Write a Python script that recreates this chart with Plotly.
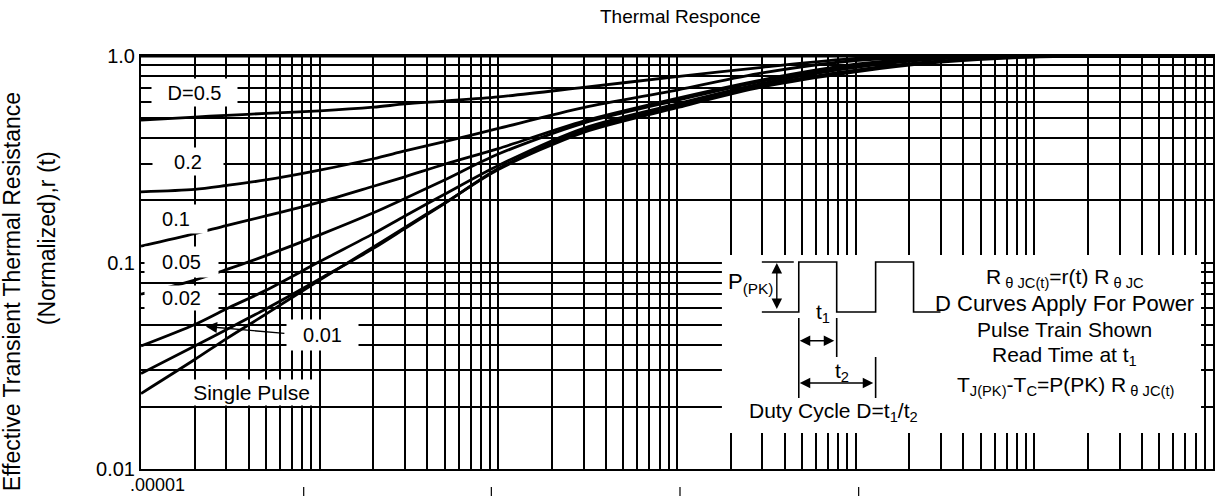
import plotly.graph_objects as go

# ---------------- data ----------------
t = [1e-5, 2e-5, 3e-5, 5e-5, 1e-4, 2e-4, 3e-4, 5e-4, 1e-3, 3e-3, 1e-2, 3e-2, 0.1, 0.3, 1, 3, 10]

r_d05 = [0.489, 0.506, 0.516, 0.527, 0.542, 0.565, 0.586, 0.605, 0.634, 0.705, 0.794, 0.881, 0.973, 0.998, 1.0, 1.0, 1.0]
r_d02 = [0.220, 0.226, 0.236, 0.251, 0.280, 0.318, 0.347, 0.385, 0.446, 0.562, 0.684, 0.828, 0.951, 0.991, 1.0, 1.0, 1.0]
r_d01 = [0.120, 0.138, 0.151, 0.168, 0.196, 0.234, 0.260, 0.299, 0.356, 0.484, 0.624, 0.767, 0.912, 0.984, 1.0, 1.0, 1.0]
r_d005 = [0.0703, 0.0822, 0.0923, 0.108, 0.136, 0.174, 0.204, 0.251, 0.335, 0.473, 0.610, 0.755, 0.899, 0.979, 1.0, 1.0, 1.0]
r_d002 = [0.0394, 0.0501, 0.0596, 0.0733, 0.101, 0.138, 0.168, 0.214, 0.295, 0.447, 0.586, 0.736, 0.881, 0.968, 0.998, 1.0, 1.0]
r_d001 = [0.0290, 0.0394, 0.0473, 0.0596, 0.0832, 0.117, 0.146, 0.193, 0.285, 0.437, 0.573, 0.721, 0.855, 0.946, 0.993, 1.0, 1.0]
r_single = [0.0232, 0.0339, 0.0427, 0.0562, 0.0822, 0.119, 0.148, 0.194, 0.282, 0.427, 0.562, 0.708, 0.838, 0.933, 0.989, 1.0, 1.0]

series = [
    ("D=0.5", r_d05),
    ("0.2", r_d02),
    ("0.1", r_d01),
    ("0.05", r_d005),
    ("0.02", r_d002),
    ("0.01", r_d001),
    ("Single Pulse", r_single),
]

y_tick_labels = {0.01: "0.01", 0.1: "0.1", 1.0: "1.0"}
x_first_label = ".00001"

# ---------------- layout geometry ----------------
W, H = 1219, 496
L, R, T, B = 141, 1215, 56, 469   # plot area in pixels
FONT = "Liberation Sans, Arial, sans-serif"


def PX(px):
    return (px - L) / (R - L)


def PY(py):
    return (B - py) / (B - T)


fig = go.Figure()
for name, vals in series:
    fig.add_trace(go.Scatter(
        x=t, y=vals, mode="lines", name=name,
        line=dict(color="black", width=2.8, shape="spline", smoothing=0.8),
        showlegend=False, hoverinfo="skip",
    ))

# grid positions (1..9 per decade)
x_grid = [m * 10.0 ** e for e in range(-5, 1) for m in range(1, 10)] + [10.0]
y_grid = [m * 10.0 ** e for e in range(-2, 0) for m in range(1, 10)] + [1.0]
y_text = [y_tick_labels.get(round(v, 10), "") for v in y_grid]

fig.update_xaxes(
    type="log", range=[-5, 1], tickvals=x_grid, showticklabels=False,
    showgrid=True, gridcolor="black", gridwidth=1.6,
    showline=True, linecolor="black", linewidth=2, mirror=True,
    ticks="", zeroline=False,
)
fig.update_yaxes(
    type="log", range=[-2, 0], tickvals=y_grid, ticktext=y_text,
    showgrid=True, gridcolor="black", gridwidth=1.6,
    showline=True, linecolor="black", linewidth=2, mirror=True,
    ticks="", zeroline=False,
    tickfont=dict(family=FONT, size=20, color="black"),
)

shapes = []
# thicker top border (curves merge with it)
shapes.append(dict(type="line", xref="paper", yref="paper", x0=0, x1=1, y0=1, y1=1,
                   line=dict(color="black", width=3), layer="above"))
# white panel for the inset
shapes.append(dict(type="rect", xref="paper", yref="paper",
                   x0=PX(723), x1=PX(1203), y0=PY(433), y1=PY(255),
                   fillcolor="white", line=dict(width=0), layer="above"))
lw = dict(color="black", width=1.6)
# pulse train
pulse = [(763, 312), (800, 312), (800, 262), (838, 262), (838, 312), (877, 312),
         (877, 262), (915, 262), (915, 312), (942, 312)]
path = "M " + " L ".join(f"{PX(a)},{PY(b)}" for a, b in pulse)
shapes.append(dict(type="path", xref="paper", yref="paper", path=path, line=lw, layer="above"))
# P(PK) reference line
shapes.append(dict(type="line", xref="paper", yref="paper", x0=PX(763), x1=PX(795),
                   y0=PY(262), y1=PY(262), line=lw, layer="above"))
# vertical extension ticks for t1/t2
for (a, b0, b1) in [(800, 318, 398), (838, 318, 357), (877, 357, 398)]:
    shapes.append(dict(type="line", xref="paper", yref="paper", x0=PX(a), x1=PX(a),
                       y0=PY(b0), y1=PY(b1), line=lw, layer="above"))
# remnant marks at the bottom edge
for a in [304, 492, 681, 860]:
    shapes.append(dict(type="line", xref="paper", yref="paper", x0=PX(a), x1=PX(a),
                       y0=PY(487), y1=PY(498), line=dict(color="black", width=1.2)))

ann = []


def label(text, cx, cy, w, h, size=20):
    ann.append(dict(text=text, xref="paper", yref="paper", x=PX(cx), y=PY(cy),
                    xanchor="center", yanchor="middle", showarrow=False,
                    bgcolor="white", width=w, height=h, borderpad=0,
                    font=dict(family=FONT, size=size, color="black")))


def text(t_, cx, cy, size=21, angle=0):
    ann.append(dict(text=t_, xref="paper", yref="paper", x=PX(cx), y=PY(cy),
                    xanchor="center", yanchor="middle", showarrow=False,
                    textangle=angle, font=dict(family=FONT, size=size, color="black")))


label("D=0.5", 194.5, 92.5, 85, 27)
label("0.2", 188, 161.5, 70, 27)
label("0.1", 176, 219, 62, 28)
label("0.05", 181.5, 262, 73, 30)
label("0.02", 181.5, 298, 73, 24)
label("0.01", 322.5, 335, 71, 30)
label("Single Pulse", 251.5, 392.5, 133, 25, size=21)


def arrow(x_head, y_head, x_tail, y_tail, both=False, size=1.3):
    ann.append(dict(text=" ", xref="paper", yref="paper", x=PX(x_head), y=PY(y_head),
                    ax=x_tail - x_head, ay=y_tail - y_head, axref="pixel", ayref="pixel",
                    showarrow=True, arrowhead=2, arrowsize=size, arrowwidth=1.4,
                    arrowside="end+start" if both else "end", arrowcolor="black",
                    startarrowhead=2, startarrowsize=size, standoff=0, startstandoff=0,
                    font=dict(size=1)))


arrow(206, 326.5, 286, 333.5, size=1.6)
arrow(778, 263, 778, 311, both=True, size=1.5)
arrow(801, 340.7, 837, 340.7, both=True, size=1.5)
arrow(801, 383, 876, 383, both=True, size=1.5)

# inset texts
text("P<sub>(PK)</sub>", 752, 283, size=22)
text("t<sub>1</sub>", 824, 313, size=21)
text("t<sub>2</sub>", 843, 372, size=21)
text("Duty Cycle D=t<sub>1</sub>/t<sub>2</sub>", 835, 412, size=21)
text("R<sub> θ JC(t)</sub>=r(t) R<sub> θ JC</sub>", 1067, 278, size=21)
text("D Curves Apply For Power", 1066, 303, size=22)
text("Pulse Train Shown", 1066, 329, size=21)
text("Read Time at t<sub>1</sub>", 1066, 356, size=21)
text("T<sub>J(PK)</sub>-T<sub>C</sub>=P(PK) R<sub> θ JC(t)</sub>", 1067, 386, size=21)

# titles
text("Thermal Responce", 682, 17, size=19)
text("Effective Transient Thermal Resistance", 12, 292, size=23, angle=-90)
text("(Normalized),r (t)", 47, 238, size=23, angle=-90)
text(x_first_label, 158, 485, size=18)

fig.update_layout(
    width=W, height=H,
    margin=dict(l=L, r=W - R, t=T, b=H - B),
    paper_bgcolor="white", plot_bgcolor="white",
    shapes=shapes, annotations=ann, showlegend=False,
    font=dict(family=FONT, color="black"),
)

fig.write_html(
    "out.html",
    config={"displayModeBar": False},
    post_script="document.body.style.margin='0';document.body.style.overflow='hidden';",
)
